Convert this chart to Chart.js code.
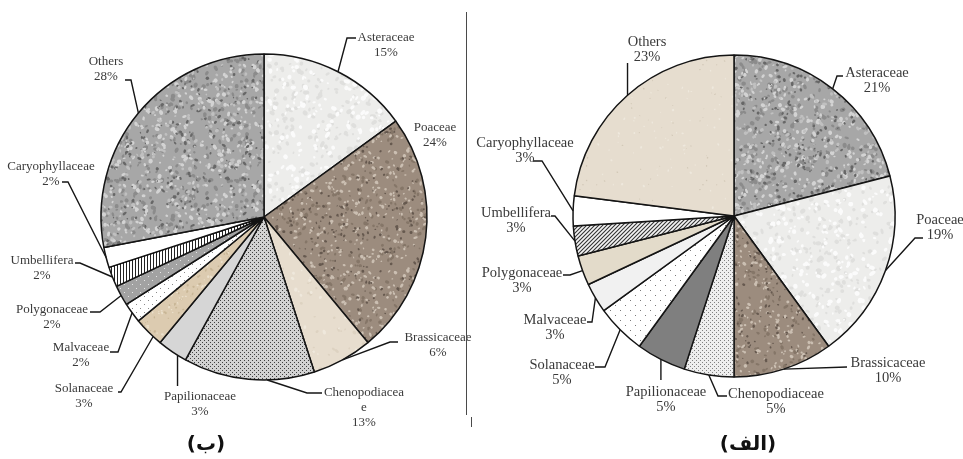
<!DOCTYPE html>
<html>
<head>
<meta charset="utf-8">
<script src="https://cdn.jsdelivr.net/npm/chart.js@4.4.1/dist/chart.umd.min.js"></script>
<style>
  html, body { margin: 0; padding: 0; background: #fff; }
  #wrap { position: relative; width: 963px; height: 459px; overflow: hidden; background: #fff; }
  #wrap canvas { position: absolute; left: 0; top: 0; }
  .sep { position: absolute; background: #4a4a4a; }
  .cap { position: absolute; font-family: "DejaVu Sans", sans-serif; font-weight: bold;
         font-size: 20px; line-height: 26px; color: #111; transform: translateX(-50%); white-space: nowrap; }
</style>
</head>
<body>
<div id="wrap">
  <canvas id="pieB" width="963" height="459"></canvas>
  <canvas id="pieA" width="963" height="459"></canvas>
  <div class="sep" style="left:466px;top:12px;width:1px;height:403px"></div>
  <div class="sep" style="left:471px;top:417px;width:1px;height:10px"></div>
  <div class="cap" style="left:206px;top:430px">(ب)</div>
  <div class="cap" style="left:748px;top:430px">(الف)</div>
</div>
<script>
// Plant families, in clockwise order starting at 12 o'clock
const families = ['Asteraceae', 'Poaceae', 'Brassicaceae', 'Chenopodiaceae', 'Papilionaceae',
                  'Solanaceae', 'Malvaceae', 'Polygonaceae', 'Umbellifera', 'Caryophyllaceae', 'Others'];

// Share of each family (%) — panel (ب), left
const sharesB = [15, 24, 6, 13, 3, 3, 2, 2, 2, 2, 28];
// Share of each family (%) — panel (الف), right
const sharesA = [21, 19, 10, 5, 5, 5, 3, 3, 3, 3, 23];

// ---------- fill textures ----------
function seeded(seed) {
  return function () {
    seed = (seed + 0x6D2B79F5) | 0;
    let t = Math.imul(seed ^ (seed >>> 15), 1 | seed);
    t = (t + Math.imul(t ^ (t >>> 7), 61 | t)) ^ t;
    return ((t ^ (t >>> 14)) >>> 0) / 4294967296;
  };
}
function makeTile(ctx, w, h, paint) {
  const c = document.createElement('canvas');
  c.width = w; c.height = h;
  paint(c.getContext('2d'), w, h);
  return ctx.createPattern(c, 'repeat');
}
// mottled stone-like texture
function granite(ctx, base, specks, seed) {
  const S = 120, rnd = seeded(seed);
  return makeTile(ctx, S, S, (g) => {
    g.fillStyle = base; g.fillRect(0, 0, S, S);
    specks.forEach(([col, n, r0, r1]) => {
      g.fillStyle = col;
      for (let i = 0; i < n; i++) {
        const x = rnd() * S, y = rnd() * S, r = r0 + rnd() * (r1 - r0);
        const sx = 0.7 + rnd() * 0.6;
        for (const ox of [-S, 0, S]) for (const oy of [-S, 0, S]) {
          g.beginPath(); g.ellipse(x + ox, y + oy, r * sx, r / sx, rnd() * 3, 0, Math.PI * 2); g.fill();
        }
      }
    });
  });
}
function dots(ctx, bg, fg, step, size) {
  return makeTile(ctx, step * 2, step * 2, (g, w, h) => {
    g.fillStyle = bg; g.fillRect(0, 0, w, h);
    g.fillStyle = fg;
    g.fillRect(0, 0, size, size);
    g.fillRect(step, step, size, size);
  });
}
function vStripes(ctx) {
  return makeTile(ctx, 3, 3, (g) => {
    g.fillStyle = '#ffffff'; g.fillRect(0, 0, 3, 3);
    g.fillStyle = '#222222'; g.fillRect(0, 0, 1, 3);
  });
}
function hatch(ctx) {
  return makeTile(ctx, 4, 4, (g) => {
    g.fillStyle = '#f4f4f4'; g.fillRect(0, 0, 4, 4);
    g.strokeStyle = '#333'; g.lineWidth = 1.1;
    g.beginPath();
    g.moveTo(-1, 5); g.lineTo(5, -1);
    g.moveTo(-1, 1); g.lineTo(1, -1);
    g.moveTo(3, 5); g.lineTo(5, 3);
    g.stroke();
  });
}

const greyStone = (ctx, s) => granite(ctx, '#a7a7a7',
  [['#8b8b8b', 170, 1.0, 2.4], ['#d3d3d3', 190, 0.9, 2.3], ['#676767', 150, 0.7, 1.8], ['#c0c0c0', 120, 0.8, 2.0]], s);
const brownStone = (ctx, s) => granite(ctx, '#9c8c7e',
  [['#857668', 150, 0.9, 2.0], ['#cbbfb2', 230, 0.7, 1.8], ['#66594f', 150, 0.6, 1.5]], s);
const paleStone = (ctx, s) => granite(ctx, '#ededeb',
  [['#dfdfdd', 170, 1.0, 2.6], ['#fbfbfb', 170, 1.0, 2.6]], s);

// ---------- label placement (offsets from the pie centre, px) ----------
const layoutB = [
  { tx: 122, ty: -179, lead: [[92, -179], [83, -179]] },
  { tx: 171, ty: -89 },
  { tx: 174, ty: 121, lead: [[134, 125], [126, 125]] },
  { tx: 100, ty: 176, wrap: ['Chenopodiacea', 'e'], lead: [[58, 176], [43, 176]], t: 0.36 },
  { tx: -64, ty: 180, vert: 169, t: 0.3 },
  { tx: -180, ty: 172, lead: [[-146, 175], [-143, 175]], t: 0.3 },
  { tx: -183, ty: 131, lead: [[-154, 135], [-146, 135]] },
  { tx: -212, ty: 93, lead: [[-174, 95], [-164, 95]] },
  { tx: -222, ty: 44, lead: [[-189, 46], [-184, 46]] },
  { tx: -213, ty: -50, lead: [[-202, -35], [-196, -35]] },
  { tx: -158, ty: -155, lead: [[-139, -137], [-133, -137]] }
];
const layoutA = [
  { tx: 143, ty: -143, lead: [[109, -140], [103, -140]] },
  { tx: 206, ty: 4, lead: [[189, 22], [181, 22]] },
  { tx: 154, ty: 147, lead: [[113, 151]] },
  { tx: 42, ty: 178, lead: [[-7, 180], [-16, 180]] },
  { tx: -68, ty: 176, vert: 164 },
  { tx: -172, ty: 149, lead: [[-139, 151], [-129, 151]] },
  { tx: -179, ty: 104, lead: [[-147, 106], [-142, 106]] },
  { tx: -212, ty: 57, lead: [[-171, 59], [-164, 59]] },
  { tx: -218, ty: -3, lead: [[-183, 0], [-179, 0]] },
  { tx: -209, ty: -73, lead: [[-201, -55], [-192, -55]] },
  { tx: -87, ty: -174, vert: -153 }
];

function leaderLabels(layout, fontSize) {
  return {
    id: 'leaderLabels',
    afterDatasetsDraw(chart) {
      const ctx = chart.ctx;
      const meta = chart.getDatasetMeta(0);
      const values = chart.data.datasets[0].data;
      ctx.save();
      meta.data.forEach((arc, i) => {
        const L = layout[i];
        const p = arc.getProps(['x', 'y', 'startAngle', 'endAngle', 'outerRadius'], true);
        const cx = p.x, cy = p.y;
        const a = p.startAngle + (L.t ?? 0.5) * (p.endAngle - p.startAngle);
        const ex = cx + Math.cos(a) * p.outerRadius;
        const ey = cy + Math.sin(a) * p.outerRadius;
        ctx.strokeStyle = '#161616';
        ctx.lineWidth = 1.4;
        if (L.lead) {
          ctx.beginPath();
          ctx.moveTo(cx + L.lead[0][0], cy + L.lead[0][1]);
          for (let k = 1; k < L.lead.length; k++) ctx.lineTo(cx + L.lead[k][0], cy + L.lead[k][1]);
          ctx.lineTo(ex, ey);
          ctx.stroke();
        } else if (L.vert !== undefined) {
          ctx.beginPath();
          ctx.moveTo(ex, cy + L.vert);
          ctx.lineTo(ex, ey);
          ctx.stroke();
        }
        const lines = (L.wrap || [chart.data.labels[i]]).concat([values[i] + '%']);
        ctx.font = fontSize + 'px "Liberation Serif", "DejaVu Serif", serif';
        ctx.fillStyle = '#3a3a3a';
        ctx.textAlign = 'center';
        ctx.textBaseline = 'middle';
        lines.forEach((s, k) => ctx.fillText(s, cx + L.tx, cy + L.ty + k * 15));
      });
      ctx.restore();
    }
  };
}

function pieChart(id, values, fills, layout, pad, fontSize) {
  return new Chart(document.getElementById(id), {
    type: 'pie',
    data: {
      labels: families,
      datasets: [{
        data: values,
        backgroundColor: fills,
        borderColor: '#141414',
        borderWidth: 1.5
      }]
    },
    options: {
      responsive: false,
      animation: false,
      events: [],
      layout: { padding: pad },
      plugins: { legend: { display: false }, tooltip: { enabled: false } }
    },
    plugins: [leaderLabels(layout, fontSize)]
  });
}

// panel (ب)
const ctxB = document.getElementById('pieB').getContext('2d');
const fillsB = [
  paleStone(ctxB, 11),
  brownStone(ctxB, 12),
  granite(ctxB, '#e7ddce', [['#ddd2c1', 60, 0.8, 2.0], ['#efe8dc', 60, 0.8, 2.0]], 13),
  dots(ctxB, '#d2d2d2', '#3f3f3f', 2, 1),
  '#d6d6d6',
  granite(ctxB, '#dccbb0', [['#c8b696', 260, 0.5, 1.3], ['#ebe0cc', 240, 0.5, 1.3]], 14),
  dots(ctxB, '#ffffff', '#8a8a8a', 4, 1),
  dots(ctxB, '#a2a2a2', '#e6e6e6', 4, 1),
  vStripes(ctxB),
  '#ffffff',
  greyStone(ctxB, 15)
];
pieChart('pieB', sharesB, fillsB, layoutB,
  { left: 100.25, top: 53.25, right: 535.25, bottom: 78.25 }, 13);

// panel (الف)
const ctxA = document.getElementById('pieA').getContext('2d');
const fillsA = [
  greyStone(ctxA, 21),
  paleStone(ctxA, 22),
  brownStone(ctxA, 23),
  dots(ctxA, '#eeeeee', '#808080', 2, 1),
  '#7f7f7f',
  dots(ctxA, '#ffffff', '#7a7a7a', 5, 1),
  '#f1f1f1',
  '#e3dbca',
  hatch(ctxA),
  '#ffffff',
  granite(ctxA, '#e6ddcf', [['#d2c8b7', 40, 0.4, 0.9], ['#eee8dd', 60, 0.5, 1.2]], 24)
];
pieChart('pieA', sharesA, fillsA, layoutA,
  { left: 572.25, top: 54.25, right: 67.25, bottom: 81.25 }, 14.5);
</script>
</body>
</html>
